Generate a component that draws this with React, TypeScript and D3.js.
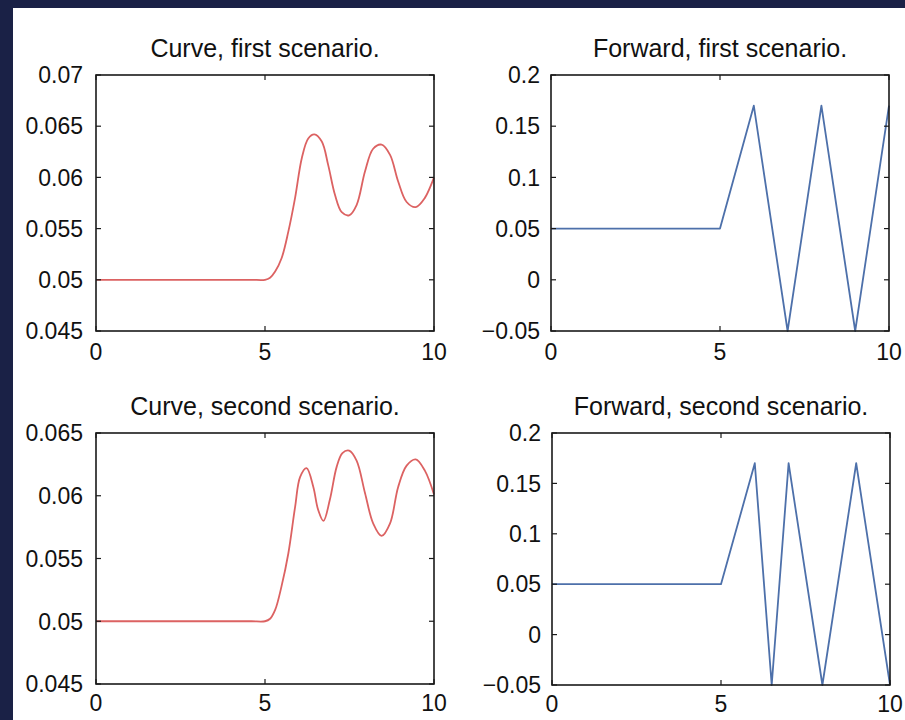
import { useEffect, useRef } from "react";
import * as d3 from "d3";

// curve, first scenario
const curve1X = [0, 1, 2, 3, 4, 4.6, 5, 5.15, 5.3, 5.49, 5.69, 5.89, 6.09, 6.28, 6.46, 6.68, 6.87, 7.07, 7.27, 7.49, 7.71, 7.96, 8.2, 8.45, 8.7, 8.94, 9.19, 9.46, 9.73, 10];
const curve1Y = [0.05, 0.05, 0.05, 0.05, 0.05, 0.05, 0.05, 0.0502, 0.0508, 0.0521, 0.0547, 0.058, 0.0619, 0.0638, 0.0642, 0.0635, 0.0612, 0.0583, 0.0566, 0.0563, 0.0573, 0.0606, 0.0628, 0.0632, 0.0622, 0.0596, 0.0576, 0.0571, 0.058, 0.06];

// curve, second scenario
const curve2X = [0, 1, 2, 3, 4, 4.6, 5, 5.15, 5.3, 5.49, 5.69, 5.89, 6.04, 6.23, 6.43, 6.57, 6.73, 6.92, 7.12, 7.29, 7.49, 7.71, 7.96, 8.2, 8.45, 8.7, 8.94, 9.19, 9.46, 9.73, 10];
const curve2Y = [0.05, 0.05, 0.05, 0.05, 0.05, 0.05, 0.05, 0.0502, 0.0509, 0.0528, 0.0554, 0.0591, 0.0615, 0.0622, 0.0607, 0.0589, 0.058, 0.0597, 0.0623, 0.0634, 0.0636, 0.0628, 0.0602, 0.0578, 0.0568, 0.0578, 0.0607, 0.0624, 0.0629, 0.062, 0.0601];

// forward rates
const fwd1X = [0, 5, 6, 7, 8, 9, 10];
const fwd1Y = [0.05, 0.05, 0.17, -0.05, 0.17, -0.05, 0.17];
const fwd2X = [0, 5, 6, 6.5, 7, 8, 9, 10];
const fwd2Y = [0.05, 0.05, 0.17, -0.05, 0.17, -0.05, 0.17, -0.05];

const xTicks = [0, 5, 10];
const yTicksCurve1 = [0.045, 0.05, 0.055, 0.06, 0.065, 0.07];
const yTicksCurve2 = [0.045, 0.05, 0.055, 0.06, 0.065];
const yTicksFwd = [-0.05, 0, 0.05, 0.1, 0.15, 0.2];

const titles = [
  "Curve, first scenario.",
  "Forward, first scenario.",
  "Curve, second scenario.",
  "Forward, second scenario.",
];

const FONT = "'Liberation Sans', Arial, Helvetica, sans-serif";

function drawPanel(svg, opts) {
  const { left, right, top, bottom, xs, ys, yTicks, color, title, smooth, labelGap, xLabelDy } = opts;
  const x = d3.scaleLinear().domain([0, 10]).range([left, right]);
  const y = d3
    .scaleLinear()
    .domain([yTicks[0], yTicks[yTicks.length - 1]])
    .range([bottom, top]);
  const fmt = d3.format("~g");
  const g = svg.append("g");

  const pts = xs.map((v, i) => [v, ys[i]]);
  const line = d3
    .line()
    .x((d) => x(d[0]))
    .y((d) => y(d[1]))
    .curve(smooth ? d3.curveCatmullRom.alpha(0.5) : d3.curveLinear);

  g.append("path")
    .attr("d", line(pts))
    .attr("fill", "none")
    .attr("stroke", color)
    .attr("stroke-width", 1.8)
    .attr("stroke-linejoin", "round");

  // box
  g.append("rect")
    .attr("x", left)
    .attr("y", top)
    .attr("width", right - left)
    .attr("height", bottom - top)
    .attr("fill", "none")
    .attr("stroke", "#1a1a1a")
    .attr("stroke-width", 1.6);

  const tl = 5;
  // inward ticks on all sides
  yTicks.forEach((t) => {
    g.append("line").attr("x1", left).attr("x2", left + tl).attr("y1", y(t)).attr("y2", y(t)).attr("stroke", "#1a1a1a").attr("stroke-width", 1.2);
    g.append("line").attr("x1", right).attr("x2", right - tl).attr("y1", y(t)).attr("y2", y(t)).attr("stroke", "#1a1a1a").attr("stroke-width", 1.2);
  });
  xTicks.forEach((t) => {
    g.append("line").attr("x1", x(t)).attr("x2", x(t)).attr("y1", bottom).attr("y2", bottom - tl).attr("stroke", "#1a1a1a").attr("stroke-width", 1.2);
    g.append("line").attr("x1", x(t)).attr("x2", x(t)).attr("y1", top).attr("y2", top + tl).attr("stroke", "#1a1a1a").attr("stroke-width", 1.2);
  });

  g.selectAll("text.yl")
    .data(yTicks)
    .join("text")
    .attr("class", "yl")
    .attr("x", left - labelGap)
    .attr("y", (d) => y(d))
    .attr("dy", "0.36em")
    .attr("text-anchor", "end")
    .attr("font-family", FONT)
    .attr("font-size", 23)
    .attr("fill", "#111")
    .text((d) => fmt(d));

  g.selectAll("text.xl")
    .data(xTicks)
    .join("text")
    .attr("class", "xl")
    .attr("x", (d) => x(d))
    .attr("y", bottom + xLabelDy)
    .attr("text-anchor", "middle")
    .attr("font-family", FONT)
    .attr("font-size", 23)
    .attr("fill", "#111")
    .text((d) => fmt(d));

  g.append("text")
    .attr("x", (left + right) / 2)
    .attr("y", top - 18)
    .attr("text-anchor", "middle")
    .attr("font-family", FONT)
    .attr("font-size", 25)
    .attr("fill", "#111")
    .text(title);
}

export default function App() {
  const svgRef = useRef(null);

  useEffect(() => {
    const svg = d3.select(svgRef.current);
    svg.selectAll("*").remove();

    svg.append("rect").attr("width", 905).attr("height", 720).attr("fill", "#1a2146");
    svg.append("rect").attr("x", 13).attr("y", 8).attr("width", 892).attr("height", 712).attr("fill", "#ffffff");

    const red = "#dc6262";
    const blue = "#4d70aa";

    drawPanel(svg, { left: 96, right: 434, top: 75, bottom: 331, xs: curve1X, ys: curve1Y, yTicks: yTicksCurve1, color: red, title: titles[0], smooth: true, labelGap: 13, xLabelDy: 29 });
    drawPanel(svg, { left: 551, right: 889, top: 75, bottom: 331, xs: fwd1X, ys: fwd1Y, yTicks: yTicksFwd, color: blue, title: titles[1], smooth: false, labelGap: 11, xLabelDy: 29 });
    drawPanel(svg, { left: 96, right: 434, top: 433, bottom: 684, xs: curve2X, ys: curve2Y, yTicks: yTicksCurve2, color: red, title: titles[2], smooth: true, labelGap: 13, xLabelDy: 27 });
    drawPanel(svg, { left: 552, right: 890, top: 433, bottom: 685, xs: fwd2X, ys: fwd2Y, yTicks: yTicksFwd, color: blue, title: titles[3], smooth: false, labelGap: 11, xLabelDy: 27 });
  }, []);

  return (
    <div style={{ position: "absolute", left: 0, top: 0 }}>
      <svg ref={svgRef} width={905} height={720} style={{ display: "block" }}></svg>
    </div>
  );
}
